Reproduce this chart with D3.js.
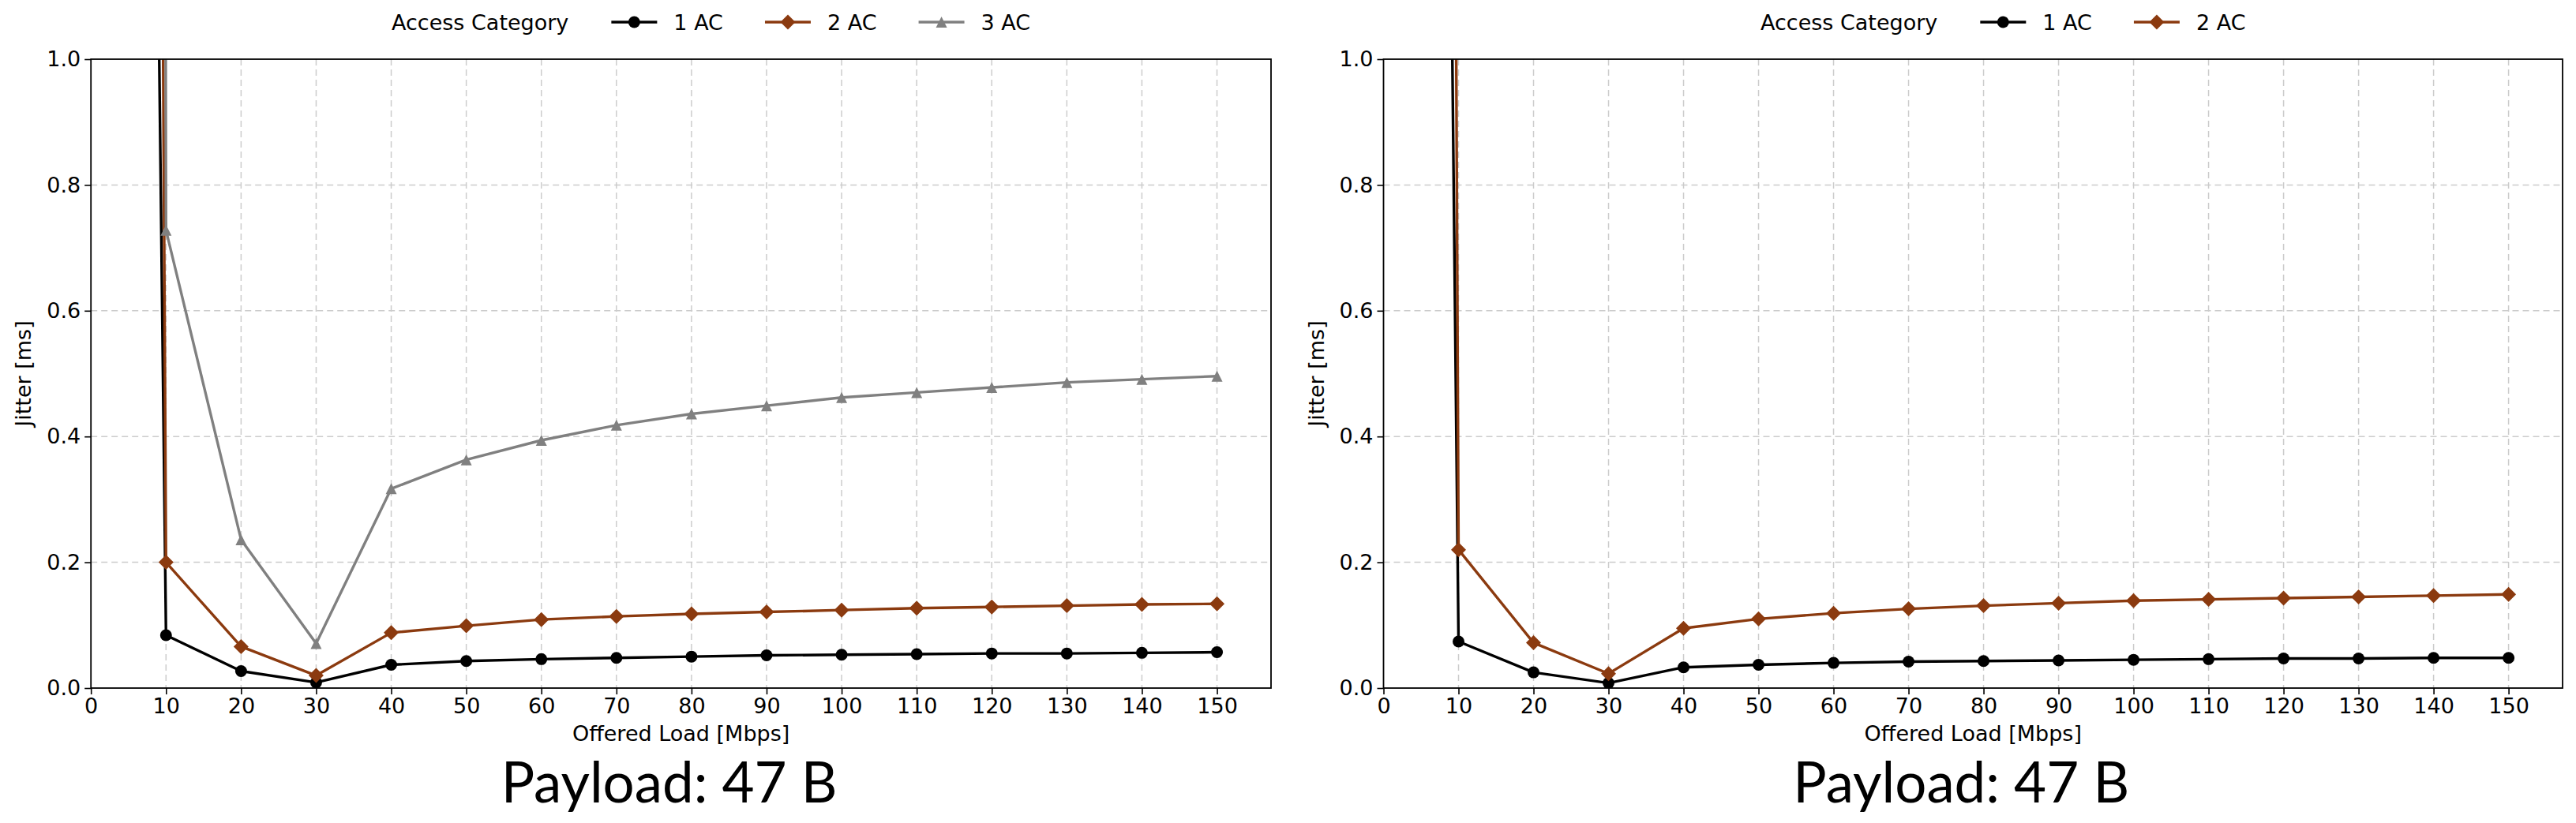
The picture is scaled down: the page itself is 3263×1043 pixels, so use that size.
<!DOCTYPE html>
<html>
<head>
<meta charset="utf-8">
<script src="https://cdn.jsdelivr.net/npm/d3@7"></script>
<style>
  body { margin: 0; background: #fff; }
  text { font-family: "DejaVu Sans", sans-serif; fill: #000; }
</style>
</head>
<body>
<script>
// Offered load (x) - first point is the off-scale spike below 10 Mbps
var loads = [9, 10, 20, 30, 40, 50, 60, 70, 80, 90, 100, 110, 120, 130, 140, 150];

// Left panel jitter [ms]
var left1AC = [1.1, 0.084, 0.027, 0.009, 0.037, 0.043, 0.046, 0.048, 0.050, 0.052, 0.053, 0.054, 0.055, 0.055, 0.056, 0.057];
var left2AC = [2.3, 0.200, 0.066, 0.020, 0.088, 0.099, 0.109, 0.114, 0.118, 0.121, 0.124, 0.127, 0.129, 0.131, 0.133, 0.134];
var left3AC = [8.0, 0.728, 0.236, 0.071, 0.317, 0.363, 0.394, 0.418, 0.436, 0.449, 0.462, 0.470, 0.478, 0.486, 0.491, 0.496];

// Right panel jitter [ms]
var right1AC = [1.2, 0.074, 0.025, 0.008, 0.033, 0.037, 0.040, 0.042, 0.043, 0.044, 0.045, 0.046, 0.047, 0.047, 0.048, 0.048];
var right2AC = [2.8, 0.220, 0.072, 0.023, 0.095, 0.110, 0.119, 0.126, 0.131, 0.135, 0.139, 0.141, 0.143, 0.145, 0.147, 0.149];

// Tick labels
var xTicks = [0, 10, 20, 30, 40, 50, 60, 70, 80, 90, 100, 110, 120, 130, 140, 150];
var yTicks = [0.0, 0.2, 0.4, 0.6, 0.8, 1.0];

var legendTitle = "Access Category";
var xLabel = "Offered Load [Mbps]";
var yLabel = "Jitter [ms]";
var caption = "Payload: 47 B";

var W = 3263, H = 1043;
var plotTop = 75, plotBottom = 872;
var fontPx = "27px";

var svg = d3.select("body")
  .append("svg")
    .attr("width", W)
    .attr("height", H);

svg.append("rect").attr("width", W).attr("height", H).attr("fill", "#fff");

// marker shapes
function markerPath(type) {
  if (type == "circle") return d3.symbol().type(d3.symbolCircle).size(Math.PI * 7.5 * 7.5)();
  if (type == "diamond") return "M0,-9.5L9.5,0L0,9.5L-9.5,0Z";
  return "M0,-7L7,7L-7,7Z";
}

var panels = [
  { left: 115.2, right: 1610, id: "a",
    series: [
      { name: "1 AC", values: left1AC, color: "#000000", marker: "circle" },
      { name: "2 AC", values: left2AC, color: "#8B3A0F", marker: "diamond" },
      { name: "3 AC", values: left3AC, color: "#808080", marker: "triangle" }
    ] },
  { left: 1752.5, right: 3246, id: "b",
    series: [
      { name: "1 AC", values: right1AC, color: "#000000", marker: "circle" },
      { name: "2 AC", values: right2AC, color: "#8B3A0F", marker: "diamond" }
    ] }
];

panels.forEach(function(p) {
  var width = p.right - p.left,
      height = plotBottom - plotTop;

  var g = svg.append("g")
    .attr("transform", "translate(" + p.left + "," + plotTop + ")");

  var x = d3.scaleLinear().domain([0, 157.2]).range([0, width]);
  var y = d3.scaleLinear().domain([0, 1]).range([height, 0]);

  // grid
  g.append("g").selectAll("line")
    .data(xTicks.filter(function(d) { return d > 0; }))
    .enter().append("line")
      .attr("x1", function(d) { return x(d); })
      .attr("x2", function(d) { return x(d); })
      .attr("y1", 0).attr("y2", height)
      .attr("stroke", "#cccccc").attr("stroke-width", 1.5)
      .attr("stroke-dasharray", "8,5");

  g.append("g").selectAll("line")
    .data(yTicks.filter(function(d) { return d > 0 && d < 1; }))
    .enter().append("line")
      .attr("x1", 0).attr("x2", width)
      .attr("y1", function(d) { return y(d); })
      .attr("y2", function(d) { return y(d); })
      .attr("stroke", "#cccccc").attr("stroke-width", 1.5)
      .attr("stroke-dasharray", "8,5");

  // clip
  svg.append("clipPath").attr("id", "clip-" + p.id)
    .append("rect").attr("width", width).attr("height", height);

  var plot = g.append("g").attr("clip-path", "url(#clip-" + p.id + ")");

  var line = d3.line()
    .x(function(d) { return x(d[0]); })
    .y(function(d) { return y(d[1]); });

  p.series.forEach(function(s) {
    var pts = loads.map(function(l, i) { return [l, s.values[i]]; });
    plot.append("path")
      .datum(pts)
      .attr("d", line)
      .attr("fill", "none")
      .attr("stroke", s.color)
      .attr("stroke-width", 3.4)
      .attr("stroke-linejoin", "round");
    plot.selectAll(null)
      .data(pts)
      .enter().append("path")
        .attr("d", markerPath(s.marker))
        .attr("transform", function(d) { return "translate(" + x(d[0]) + "," + y(d[1]) + ")"; })
        .attr("fill", s.color);
  });

  // axes
  var xAxis = g.append("g")
    .attr("transform", "translate(0," + height + ")")
    .call(d3.axisBottom(x).tickValues(xTicks).tickSize(8).tickPadding(5).tickFormat(d3.format("d")));

  var yAxis = g.append("g")
    .call(d3.axisLeft(y).tickValues(yTicks).tickSize(8).tickPadding(5).tickFormat(d3.format(".1f")));

  [xAxis, yAxis].forEach(function(a) {
    a.select(".domain").remove();
    a.selectAll(".tick line").attr("stroke", "#000").attr("stroke-width", 1.6);
    a.selectAll(".tick text")
      .style("font-family", "DejaVu Sans")
      .style("font-size", fontPx)
      .attr("fill", "#000");
  });

  // spines
  g.append("rect")
    .attr("width", width).attr("height", height)
    .attr("fill", "none").attr("stroke", "#000").attr("stroke-width", 1.8);

  // axis labels
  g.append("text")
    .attr("x", width / 2).attr("y", height + 67)
    .attr("text-anchor", "middle")
    .style("font-size", fontPx)
    .text(xLabel);

  g.append("text")
    .attr("transform", "translate(" + (-76) + "," + (height / 2) + ") rotate(-90)")
    .attr("text-anchor", "middle")
    .style("font-size", fontPx)
    .text(yLabel);

  // legend: title + entries in one row, centred a bit right of axes centre
  var leg = svg.append("g");
  var cursor = 0, gapAfterTitle = 54, handleLen = 58, handleGap = 21, entryGap = 53;
  var t = leg.append("text").attr("x", cursor).attr("y", 38).style("font-size", fontPx).text(legendTitle);
  cursor += t.node().getComputedTextLength() + gapAfterTitle;
  p.series.forEach(function(s, i) {
    leg.append("line")
      .attr("x1", cursor).attr("x2", cursor + handleLen)
      .attr("y1", 28).attr("y2", 28)
      .attr("stroke", s.color).attr("stroke-width", 3.4);
    leg.append("path")
      .attr("d", markerPath(s.marker))
      .attr("transform", "translate(" + (cursor + handleLen / 2) + ",28)")
      .attr("fill", s.color);
    cursor += handleLen + handleGap;
    var lt = leg.append("text").attr("x", cursor).attr("y", 38).style("font-size", fontPx).text(s.name);
    cursor += lt.node().getComputedTextLength();
    if (i < p.series.length - 1) cursor += entryGap;
  });
  var legCenter = p.left + width / 2 + 38;
  leg.attr("transform", "translate(" + (legCenter - cursor / 2) + ",0)");

  // caption under each panel
  var cap = svg.append("text")
    .attr("x", p.left + width / 2 - 15)
    .attr("y", 1017)
    .attr("text-anchor", "middle")
    .style("font-family", "Lato")
    .style("font-size", "80px")
    .text(caption);
  var cw = cap.node().getComputedTextLength();
  cap.style("font-size", (80 * 426 / cw) + "px");
});
</script>
</body>
</html>
